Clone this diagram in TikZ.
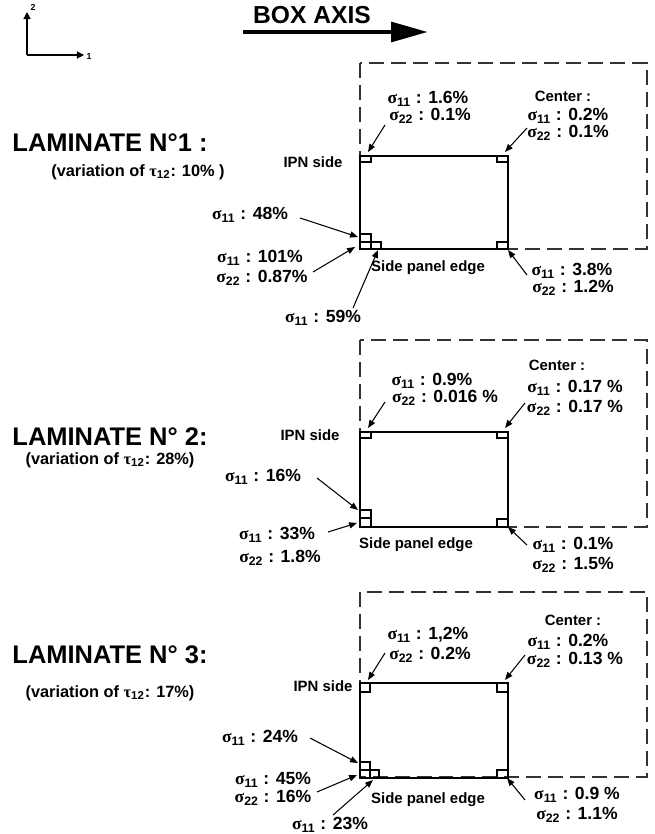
\documentclass[tikz,border=0pt]{standalone}
\usepackage{fontspec}
\setmainfont{Liberation Sans}
\newfontfamily\symfont{Liberation Serif}
\usetikzlibrary{positioning,arrows.meta}
\newcommand{\sg}[1]{{\symfont σ}\textsubscript{#1}}
\newcommand{\tu}{{\symfont τ}\textsubscript{12}}

\begin{document}
\begin{tikzpicture}[x=0.02cm,y=-0.02cm,>={Triangle[length=4.5pt,width=3.5pt]},
  every node/.style={font=\bfseries\fontsize{10}{11}\selectfont,inner sep=0pt},
  lam/.style={font=\bfseries\fontsize{14.5}{16}\selectfont},
  var/.style={font=\bfseries\fontsize{9.3}{10}\selectfont},
  small/.style={font=\bfseries\fontsize{8.5}{10}\selectfont},
  dashframe/.style={draw=black!80,dash pattern=on 8.5pt off 4pt,line width=0.6pt},
  panel/.style={draw,line width=0.9pt},
  sq/.style={draw,line width=0.7pt},
  ptr/.style={->,line width=0.6pt}]
\useasboundingbox (0,0) rectangle (655,834);

% axes
\coordinate (o) at (27,55);
\coordinate (e2) at (27,12);
\coordinate (e1) at (84,55);
\draw[line width=0.7pt,-{Triangle[length=4pt,width=4pt]}] (o) -- (e2);
\draw[line width=0.7pt,-{Triangle[length=4pt,width=4pt]}] (o) -- (e1);
\node[font=\bfseries\fontsize{5}{6}\selectfont] (n2) at (33,7) {2};
\node[font=\bfseries\fontsize{5}{6}\selectfont] (n1) at (89,56) {1};

% box axis
\node[lam,font=\bfseries\fontsize{14}{16}\selectfont] (boxaxis) at (312,15) {BOX AXIS};
\coordinate (ba1) at (243,32);
\coordinate (ba2) at (428,32);
\draw[line width=2.8pt,-{Triangle[length=21pt,width=11pt]}] (ba1) -- (ba2);

% ---- laminate 1
\draw[dashframe] (360,63) rectangle (647,249);
\draw[panel] (360,156) rectangle (508,249);
\draw[sq] (360,156) rectangle (371,162) (497,156) rectangle (508,162)
  (497,242) rectangle (508,249) (360,234) rectangle (371,242)
  (360,242) rectangle (371,249) (371,242) rectangle (381,249);
\node[lam] (lamA) at (110,143) {LAMINATE N°1 :};
\node[var] (varA) at (138,172) {(variation of \tu: 10\% )};
\node (tlA1) at (428,99) {\sg{11} : 1.6\%};
\node (tlA2) at (430,116) {\sg{22} : 0.1\%};
\node[small] (cenA) at (563,96) {Center :};
\node (trA1) at (568,116) {\sg{11} : 0.2\%};
\node (trA2) at (568,133) {\sg{22} : 0.1\%};
\node[small] (ipnA) at (313,162) {IPN side};
\node (lmA) at (250,215) {\sg{11} : 48\%};
\node (blA1) at (260,258) {\sg{11} : 101\%};
\node (blA2) at (262,278) {\sg{22} : 0.87\%};
\node[small] (edgA) at (428,268) {Side panel edge};
\node (bbA) at (323,318) {\sg{11} : 59\%};
\node (brA1) at (572,271) {\sg{11} : 3.8\%};
\node (brA2) at (573,288) {\sg{22} : 1.2\%};
\coordinate (p1) at (385,125); \coordinate (q1) at (368,152);
\coordinate (p2) at (527,128); \coordinate (q2) at (505,152);
\coordinate (p3) at (300,218); \coordinate (q3) at (358,237);
\coordinate (p4) at (313,272); \coordinate (q4) at (355,247);
\coordinate (p5) at (353,308); \coordinate (q5) at (378,250);
\coordinate (p6) at (527,275); \coordinate (q6) at (508,250);
\draw[ptr] (p1) -- (q1);
\draw[ptr] (p2) -- (q2);
\draw[ptr] (p3) -- (q3);
\draw[ptr] (p4) -- (q4);
\draw[ptr] (p5) -- (q5);
\draw[ptr] (p6) -- (q6);

% ---- laminate 2
\draw[dashframe] (360,340) rectangle (647,527);
\draw[panel] (360,432) rectangle (508,527);
\draw[sq] (360,432) rectangle (371,438) (360,510) rectangle (371,518)
  (360,518) rectangle (371,527) (497,519) rectangle (508,527);
\draw[sq,line width=1.2pt] (497,432) rectangle (508,438);
\node[lam] (lamB) at (110,437) {LAMINATE N° 2:};
\node[var] (varB) at (110,460) {(variation of \tu: 28\%)};
\node (tlB1) at (432,381) {\sg{11} : 0.9\%};
\node (tlB2) at (445,398) {\sg{22} : 0.016 \%};
\node[small] (cenB) at (557,365) {Center :};
\node (trB1) at (575,388) {\sg{11} : 0.17 \%};
\node (trB2) at (575,408) {\sg{22} : 0.17 \%};
\node[small] (ipnB) at (310,435) {IPN side};
\node (lmB) at (263,477) {\sg{11} : 16\%};
\node (blB1) at (277,535) {\sg{11} : 33\%};
\node (blB2) at (280,558) {\sg{22} : 1.8\%};
\node[small] (edgB) at (416,545) {Side panel edge};
\node (brB1) at (573,545) {\sg{11} : 0.1\%};
\node (brB2) at (573,565) {\sg{22} : 1.5\%};
\coordinate (r1) at (385,402); \coordinate (s1) at (368,428);
\coordinate (r2) at (525,403); \coordinate (s2) at (505,428);
\coordinate (r3) at (317,478); \coordinate (s3) at (358,510);
\coordinate (r4) at (328,532); \coordinate (s4) at (357,523);
\coordinate (r5) at (527,545); \coordinate (s5) at (508,527);
\draw[ptr] (r1) -- (s1);
\draw[ptr] (r2) -- (s2);
\draw[ptr] (r3) -- (s3);
\draw[ptr] (r4) -- (s4);
\draw[ptr] (r5) -- (s5);

% ---- laminate 3
\draw[dashframe] (360,592) rectangle (647,777);
\draw[panel] (360,683) rectangle (508,778);
\draw[sq] (360,683) rectangle (370,692) (497,683) rectangle (508,692)
  (360,762) rectangle (370,770) (360,770) rectangle (370,778)
  (370,770) rectangle (379,778) (497,770) rectangle (508,778);
\node[lam] (lamC) at (110,655) {LAMINATE N° 3:};
\node[var] (varC) at (110,693) {(variation of \tu: 17\%)};
\node (tlC1) at (428,635) {\sg{11} : 1,2\%};
\node (tlC2) at (430,655) {\sg{22} : 0.2\%};
\node[small] (cenC) at (573,620) {Center :};
\node (trC1) at (568,642) {\sg{11} : 0.2\%};
\node (trC2) at (575,660) {\sg{22} : 0.13 \%};
\node[small] (ipnC) at (323,686) {IPN side};
\node (lmC) at (260,738) {\sg{11} : 24\%};
\node (blC1) at (273,780) {\sg{11} : 45\%};
\node (blC2) at (273,798) {\sg{22} : 16\%};
\node[small] (edgC) at (428,800) {Side panel edge};
\node (bbC) at (330,825) {\sg{11} : 23\%};
\node (brC1) at (577,795) {\sg{11} : 0.9 \%};
\node (brC2) at (577,815) {\sg{22} : 1.1\%};
\coordinate (u1) at (385,653); \coordinate (v1) at (368,680);
\coordinate (u2) at (525,655); \coordinate (v2) at (505,680);
\coordinate (u3) at (310,738); \coordinate (v3) at (358,763);
\coordinate (u4) at (317,792); \coordinate (v4) at (357,775);
\coordinate (u5) at (333,815); \coordinate (v5) at (373,780);
\coordinate (u6) at (525,800); \coordinate (v6) at (507,778);
\draw[ptr] (u1) -- (v1);
\draw[ptr] (u2) -- (v2);
\draw[ptr] (u3) -- (v3);
\draw[ptr] (u4) -- (v4);
\draw[ptr] (u5) -- (v5);
\draw[ptr] (u6) -- (v6);
\end{tikzpicture}
\end{document}
